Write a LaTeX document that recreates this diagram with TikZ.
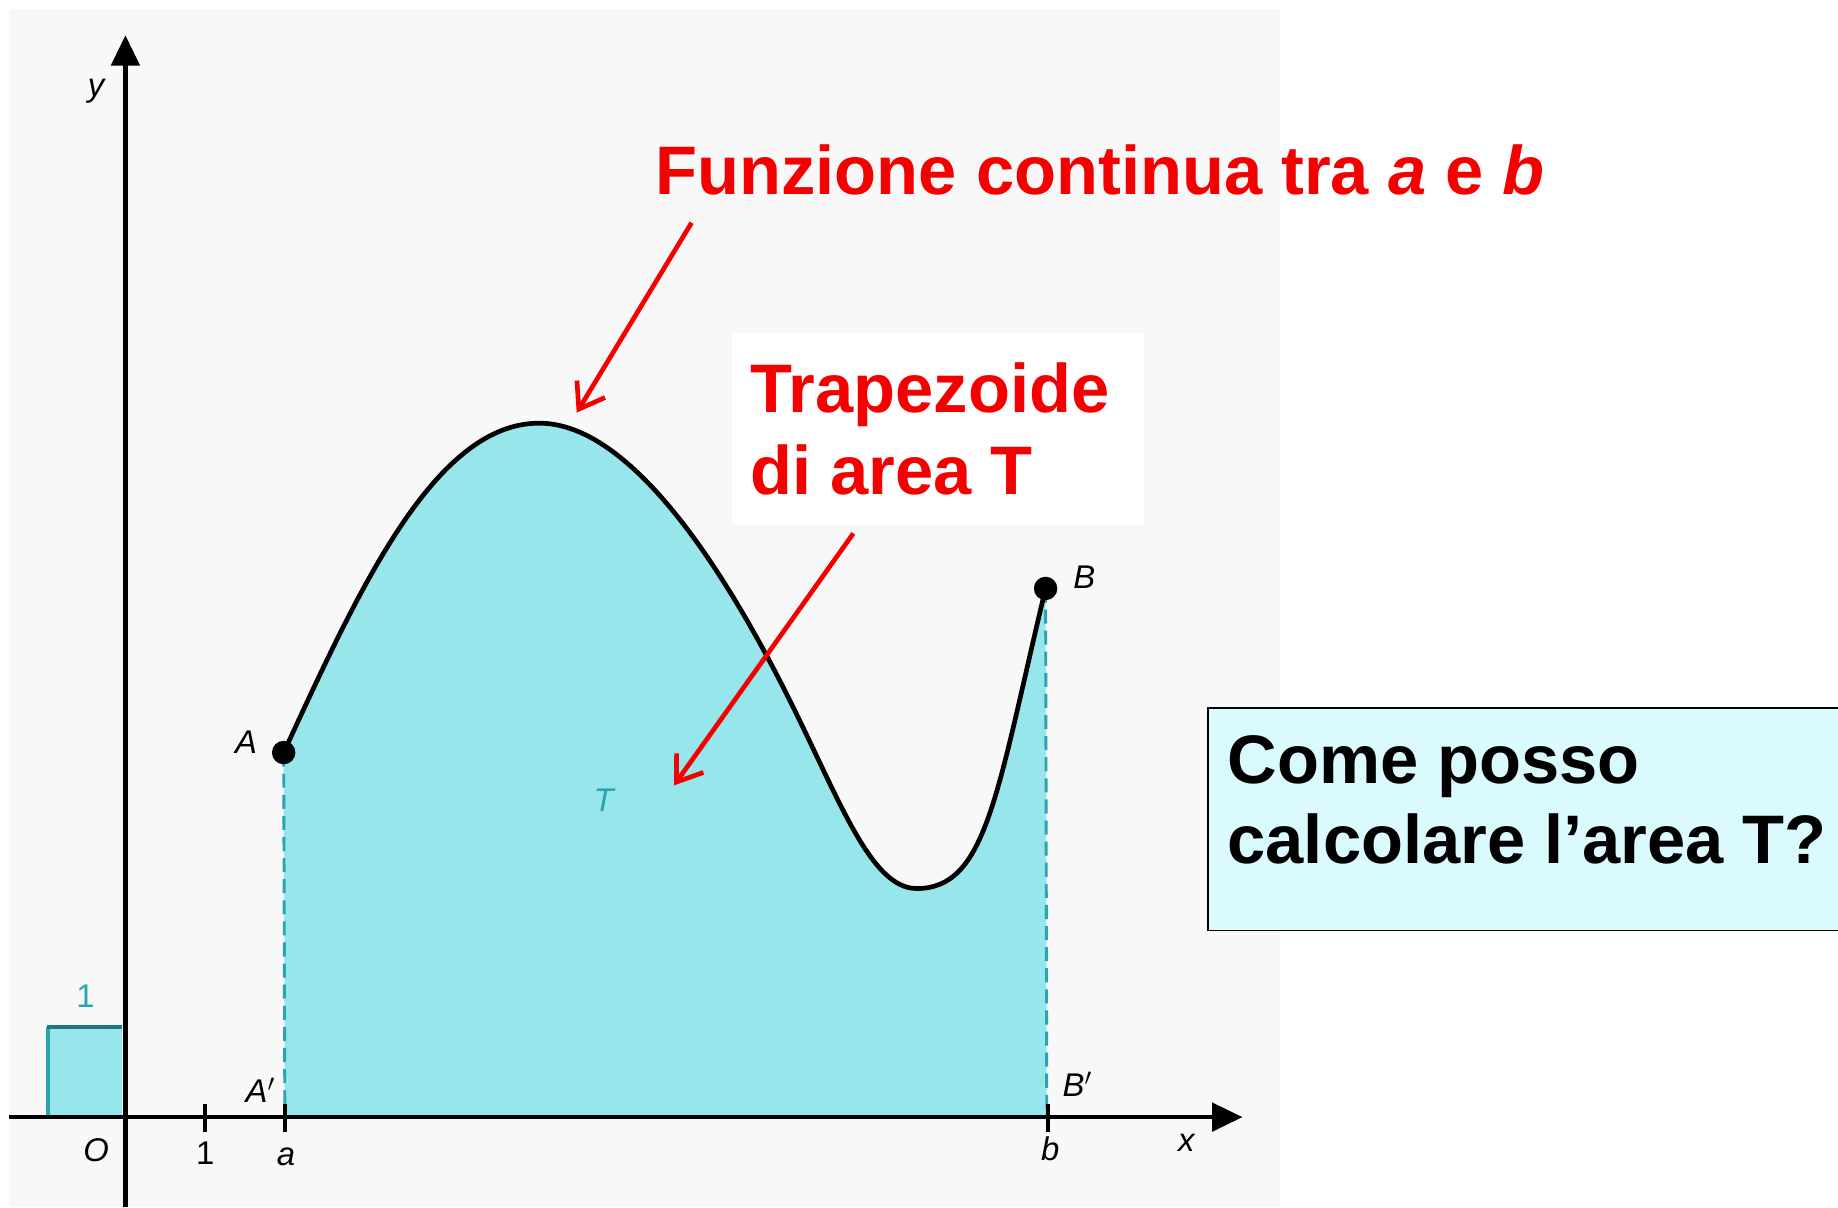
\documentclass[tikz,border=0pt]{standalone}
\usepackage{fontspec}
\setmainfont{Liberation Sans}
\usetikzlibrary{arrows.meta}
\definecolor{bggray}{RGB}{248,248,248}
\definecolor{areafill}{RGB}{150,230,236}
\definecolor{tealline}{RGB}{40,165,175}
\definecolor{tealdark}{RGB}{30,120,128}
\definecolor{qfill}{RGB}{218,250,253}
\definecolor{myred}{RGB}{245,0,0}
\tikzset{
  axis/.style={line width=4pt, black},
  axistip/.style={-{Triangle[length=26pt,width=24pt]}},
  scanlbl/.style={font=\fontsize{28}{30}\selectfont\itshape, inner sep=0pt},
  scanup/.style={font=\fontsize{28}{30}\selectfont, inner sep=0pt},
  redtxt/.style={font=\fontsize{58.6}{70}\selectfont\bfseries, text=myred, inner sep=0pt, anchor=base west},
  blktxt/.style={font=\fontsize{58.6}{70}\selectfont\bfseries, text=black, inner sep=0pt, anchor=base west},
  redarrow/.style={line width=4pt, myred, -{Straight Barb[length=20pt,width=28pt,line width=4pt]}},
  dashv/.style={tealline, line width=2.5pt, dash pattern=on 12pt off 6pt},
  tick/.style={line width=3pt, black}
}
\begin{document}
\begin{tikzpicture}[x=1pt,y=-1pt]
\useasboundingbox (0,0) rectangle (1568,1030);
\clip (0,0) rectangle (1568,1030);
\fill[white] (0,0) rectangle (1568,1030);
\fill[bggray] (8,8) rectangle (1092,1030);

% coordinates
\coordinate (A) at (242,642);
\coordinate (P) at (460,361);
\coordinate (I) at (670,590);
\coordinate (M) at (782,758);
\coordinate (B) at (892,502);
\coordinate (Ap) at (243,953);
\coordinate (Bp) at (893,953);

% shaded trapezoid
\fill[areafill] (Ap) -- (A)
  .. controls (305,505.5) and (370,361) .. (P)
  .. controls (540,361) and (620.5,492) .. (I)
  .. controls (715,679) and (742,758) .. (M)
  .. controls (842,758) and (850,677) .. (B)
  -- (Bp) -- cycle;

% unit square
\fill[areafill] (40,875) rectangle (104,951);
\draw[tealline, line width=3pt] (41,951) -- (41,876);
\draw[tealdark, line width=3pt] (40,876) -- (104,876);
\node[scanup, text=tealline] (one) at (73,850) {1};

% dashed verticals
\draw[dashv] (A) -- (Ap);
\draw[dashv] (B) -- (Bp);

% curve
\draw[line width=4pt, black] (A)
  .. controls (305,505.5) and (370,361) .. (P)
  .. controls (540,361) and (620.5,492) .. (I)
  .. controls (715,679) and (742,758) .. (M)
  .. controls (842,758) and (850,677) .. (B);
\fill (A) circle[radius=10pt];
\fill (B) circle[radius=10pt];

% axes
\coordinate (xs) at (8,953);
\coordinate (xe) at (1060,953);
\coordinate (ys) at (107,1030);
\coordinate (ye) at (107,30);
\draw[axis, axistip] (xs) -- (xe);
\draw[axis, axistip] (ys) -- (ye);

% ticks
\draw[tick] (175,942) -- (175,966);
\draw[tick] (243,942) -- (243,966);
\draw[tick] (894,942) -- (894,966);

% scan labels
\node[scanlbl] (ylbl) at (82,78) {y};
\node[scanlbl] (olbl) at (82,981) {O};
\node[scanup] (onelbl) at (175,984) {1};
\node[scanlbl] (albl) at (244,987) {a};
\node[scanlbl] (blbl) at (896,980) {b};
\node[scanlbl] (xlbl) at (1012,975) {x};
\node[scanlbl] (Albl) at (210,633) {A};
\node[scanlbl] (Aplbl) at (222,930) {A$'$};
\node[scanlbl] (Blbl) at (925,492) {B};
\node[scanlbl] (Bplbl) at (919,925) {B$'$};
\node[scanlbl, text=tealline] (Tlbl) at (515,683) {T};

% title text
\node[redtxt] (fz) at (559,166) {Funzione continua tra \textit{a} e \textit{b}};
\coordinate (f1) at (590,190);
\coordinate (f2) at (492,352);
\draw[redarrow] (f1) -- (f2);

% trapezoide box
\node[fill=white, inner sep=0pt, anchor=north west, minimum width=352pt, minimum height=164pt] (wb) at (624,284) {};
\node[redtxt] (tr1) at (640,352) {Trapezoide};
\node[redtxt] (tr2) at (640,422) {di area T};
\coordinate (t1) at (728,455);
\coordinate (t2) at (575,670);
\draw[redarrow] (t1) -- (t2);

% question box
\node[draw=black, line width=1.5pt, fill=qfill, inner sep=0pt, anchor=north west, minimum width=560pt, minimum height=190pt] (qb) at (1030,603) {};
\node[blktxt] (q1) at (1047,668) {Come posso};
\node[blktxt] (q2) at (1047,737) {calcolare l’area T?};
\end{tikzpicture}
\end{document}
